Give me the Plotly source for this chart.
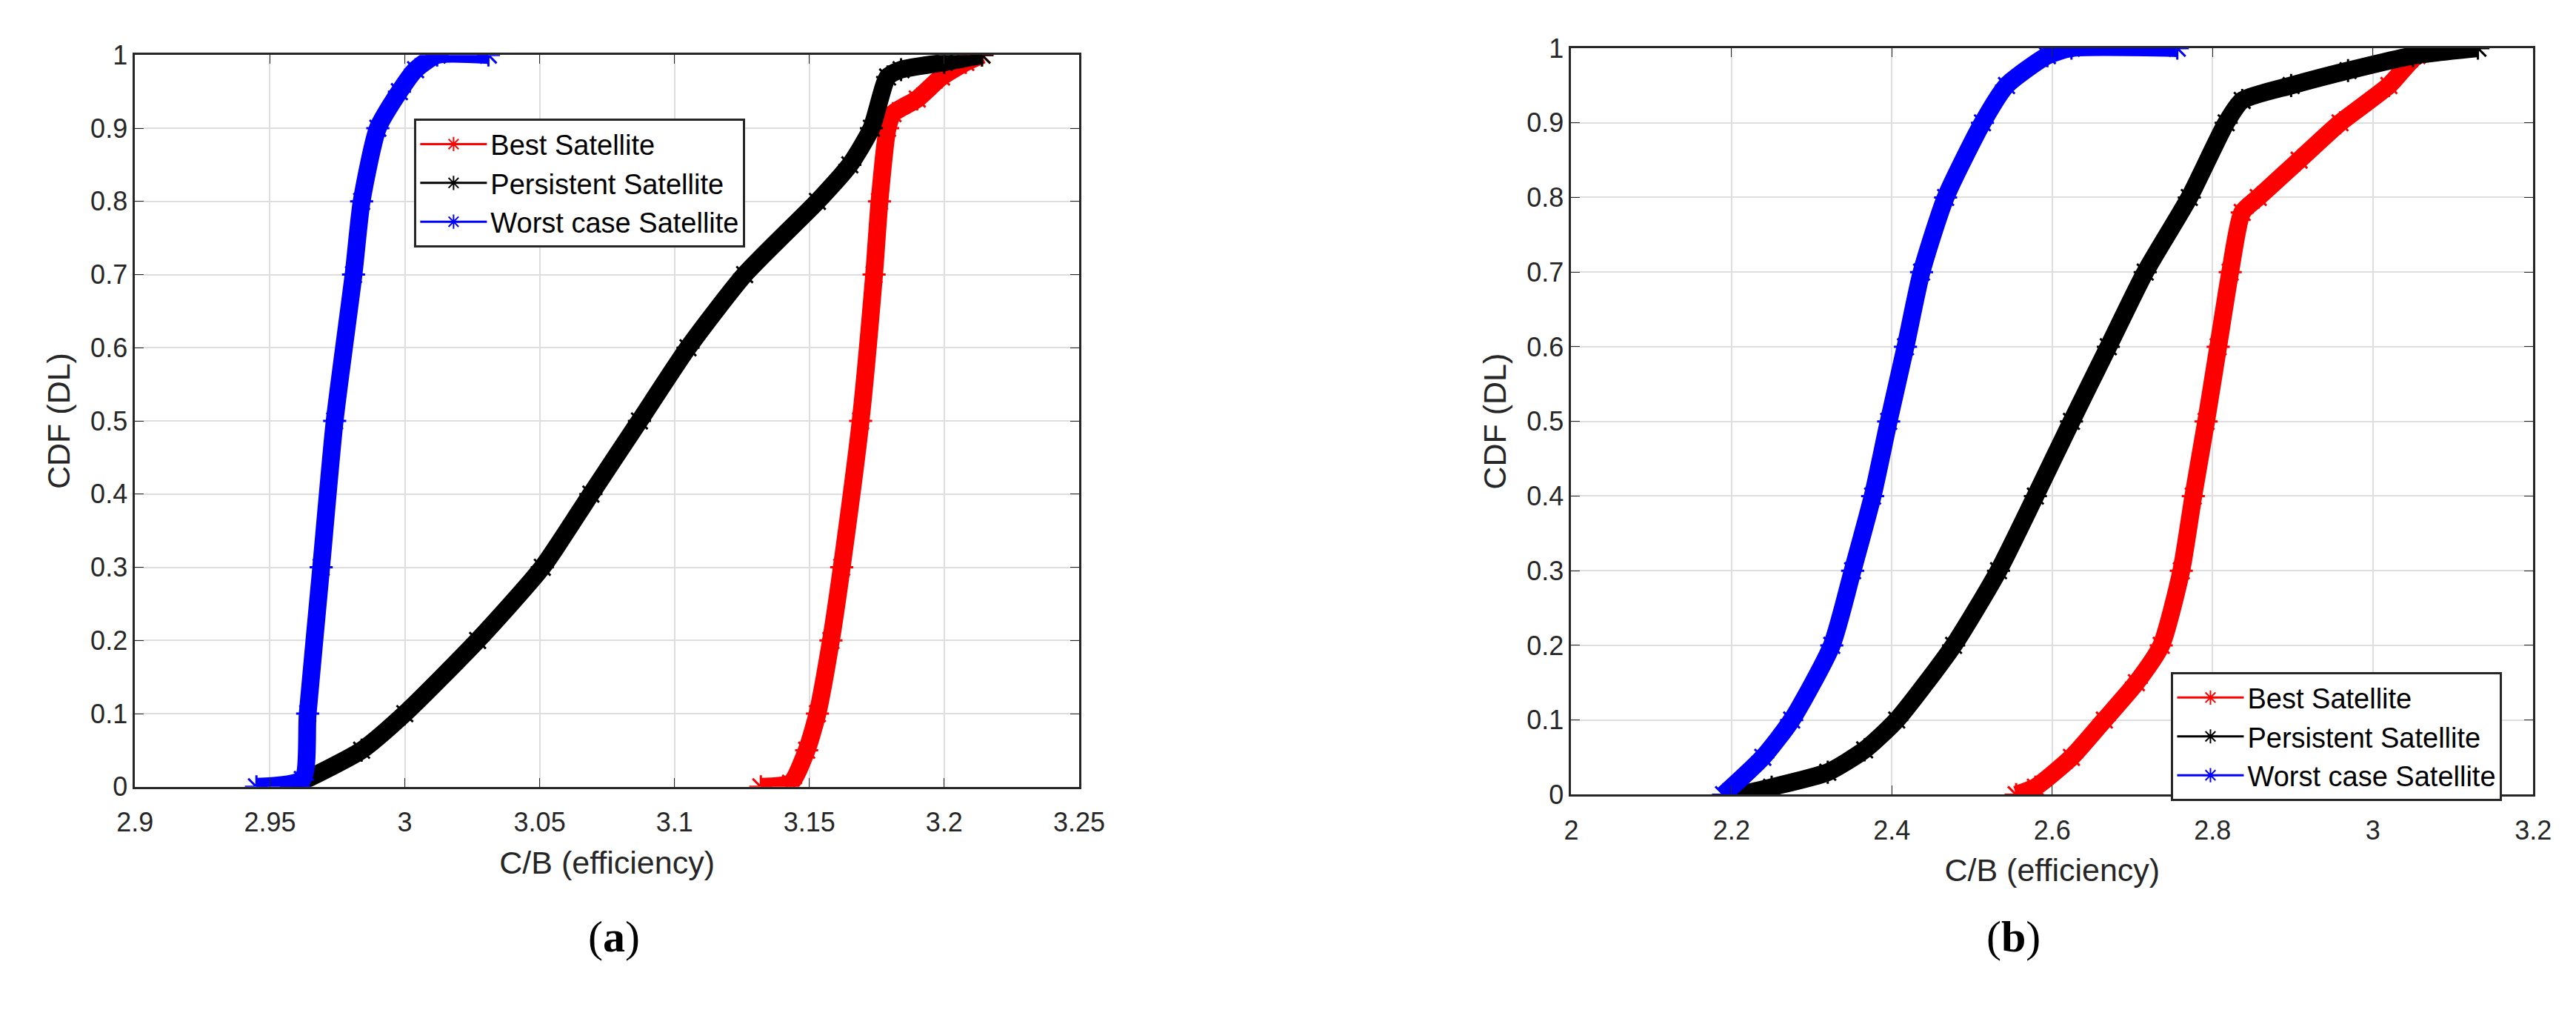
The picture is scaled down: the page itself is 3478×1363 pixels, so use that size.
import plotly.graph_objects as go

# CDF levels and C/B values
# (a)
a_best_x = [3.132, 3.143, 3.149, 3.153, 3.158, 3.162, 3.169, 3.174, 3.176, 3.179, 3.181, 3.190, 3.199, 3.208, 3.214]
a_best_y = [0.0, 0.005, 0.05, 0.1, 0.2, 0.3, 0.5, 0.7, 0.8, 0.9, 0.92, 0.94, 0.97, 0.99, 1.0]
a_pers_x = [2.958, 2.984, 3.000, 3.027, 3.051, 3.069, 3.087, 3.105, 3.126, 3.153, 3.165, 3.173, 3.179, 3.184, 3.200, 3.214]
a_pers_y = [0.0, 0.05, 0.1, 0.2, 0.3, 0.4, 0.5, 0.6, 0.7, 0.8, 0.85, 0.9, 0.97, 0.98, 0.99, 1.0]
a_worst_x = [2.945, 2.962, 2.964, 2.969, 2.974, 2.981, 2.984, 2.990, 2.998, 3.004, 3.012, 3.031]
a_worst_y = [0.0, 0.01, 0.1, 0.3, 0.5, 0.7, 0.8, 0.9, 0.95, 0.98, 1.0, 1.0]
# (b)
b_best_x = [2.555, 2.579, 2.624, 2.665, 2.705, 2.736, 2.761, 2.776, 2.792, 2.807, 2.822, 2.837, 2.857, 2.908, 2.959, 3.020, 3.055, 3.090]
b_best_y = [0.0, 0.01, 0.05, 0.1, 0.15, 0.2, 0.3, 0.4, 0.5, 0.6, 0.7, 0.78, 0.8, 0.85, 0.9, 0.95, 0.99, 1.0]
b_pers_x = [2.210, 2.250, 2.320, 2.366, 2.406, 2.477, 2.533, 2.579, 2.624, 2.670, 2.716, 2.771, 2.817, 2.837, 2.898, 2.969, 3.050, 3.131]
b_pers_y = [0.0, 0.01, 0.03, 0.06, 0.1, 0.2, 0.3, 0.4, 0.5, 0.6, 0.7, 0.8, 0.9, 0.93, 0.95, 0.97, 0.99, 1.0]
b_worst_x = [2.190, 2.239, 2.275, 2.325, 2.351, 2.376, 2.396, 2.417, 2.437, 2.467, 2.513, 2.543, 2.594, 2.624, 2.756]
b_worst_y = [0.0, 0.05, 0.1, 0.2, 0.3, 0.4, 0.5, 0.6, 0.7, 0.8, 0.9, 0.95, 0.99, 1.0, 1.0]

names = ['Best Satellite', 'Persistent Satellite', 'Worst case Satellite']
colors = ['#ff0000', '#000000', '#0000ff']

fig = go.Figure()

panels = [
    ('x', 'y', 'legend', [(a_best_x, a_best_y), (a_pers_x, a_pers_y), (a_worst_x, a_worst_y)]),
    ('x2', 'y2', 'legend2', [(b_best_x, b_best_y), (b_pers_x, b_pers_y), (b_worst_x, b_worst_y)]),
]
for xa, ya, lg, series in panels:
    for (xs, ys), nm, c in zip(series, names, colors):
        # thick curve (dense star markers in the original)
        fig.add_trace(go.Scatter(x=xs, y=ys, xaxis=xa, yaxis=ya, mode='lines+markers',
                                 line=dict(color=c, width=24, shape='spline', smoothing=0.6),
                                 marker=dict(symbol='asterisk-open', size=26, line=dict(color=c, width=3)),
                                 showlegend=False, hoverinfo='skip'))
    for nm, c in zip(names, colors):
        fig.add_trace(go.Scatter(x=[None], y=[None], xaxis=xa, yaxis=ya, mode='lines+markers', name=nm,
                                 line=dict(color=c, width=3),
                                 marker=dict(symbol='asterisk-open', size=22, line=dict(color=c, width=2)),
                                 legend=lg))

axis_style = dict(showline=True, linecolor='#262626', linewidth=3, mirror='ticks', ticks='inside',
                  ticklen=12, tickcolor='#262626', showgrid=True, gridcolor='#dedede', gridwidth=2,
                  zeroline=False, tickfont=dict(size=36, color='#262626'))

fig.update_layout(
    width=3478, height=1363, margin=dict(l=0, r=0, t=0, b=0),
    paper_bgcolor='white', plot_bgcolor='white',
    font=dict(family='Liberation Sans, Arial', size=36, color='#262626'),
    xaxis=dict(domain=[0.0437, 0.4166], range=[2.9, 3.25], tickvals=[2.9, 2.95, 3, 3.05, 3.1, 3.15, 3.2, 3.25],
               ticktext=['2.9', '2.95', '3', '3.05', '3.1', '3.15', '3.2', '3.25'], ticklabelstandoff=14,
               title=dict(text='C/B (efficiency)', standoff=20), anchor='y', **axis_style),
    yaxis=dict(domain=[0.218, 0.965], range=[0, 1], dtick=0.1, title=dict(text='CDF (DL)', standoff=15),
               anchor='x', **axis_style),
    xaxis2=dict(domain=[0.611, 0.991], range=[2, 3.2], dtick=0.2, ticklabelstandoff=14,
                title=dict(text='C/B (efficiency)', standoff=20), anchor='y2', **axis_style),
    yaxis2=dict(domain=[0.210, 0.972], range=[0, 1], dtick=0.1, title=dict(text='CDF (DL)', standoff=15),
                anchor='x2', **axis_style),
    legend=dict(x=0.154, y=0.9, xanchor='left', yanchor='top', bgcolor='white', bordercolor='#262626',
                borderwidth=3, itemwidth=90, tracegroupgap=6, font=dict(size=38, color='#000000')),
    legend2=dict(x=0.848, y=0.335, xanchor='left', yanchor='top', bgcolor='white', bordercolor='#262626',
                 borderwidth=3, itemwidth=90, tracegroupgap=6, font=dict(size=38, color='#000000')),
    annotations=[
        dict(text='(<b>a</b>)', x=0.222, y=1 - 1310 / 1363, xref='paper', yref='paper', showarrow=False,
             font=dict(family='Liberation Serif', size=60, color='black')),
        dict(text='(<b>b</b>)', x=0.797, y=1 - 1310 / 1363, xref='paper', yref='paper', showarrow=False,
             font=dict(family='Liberation Serif', size=60, color='black')),
    ],
)

fig.write_html("out.html")
